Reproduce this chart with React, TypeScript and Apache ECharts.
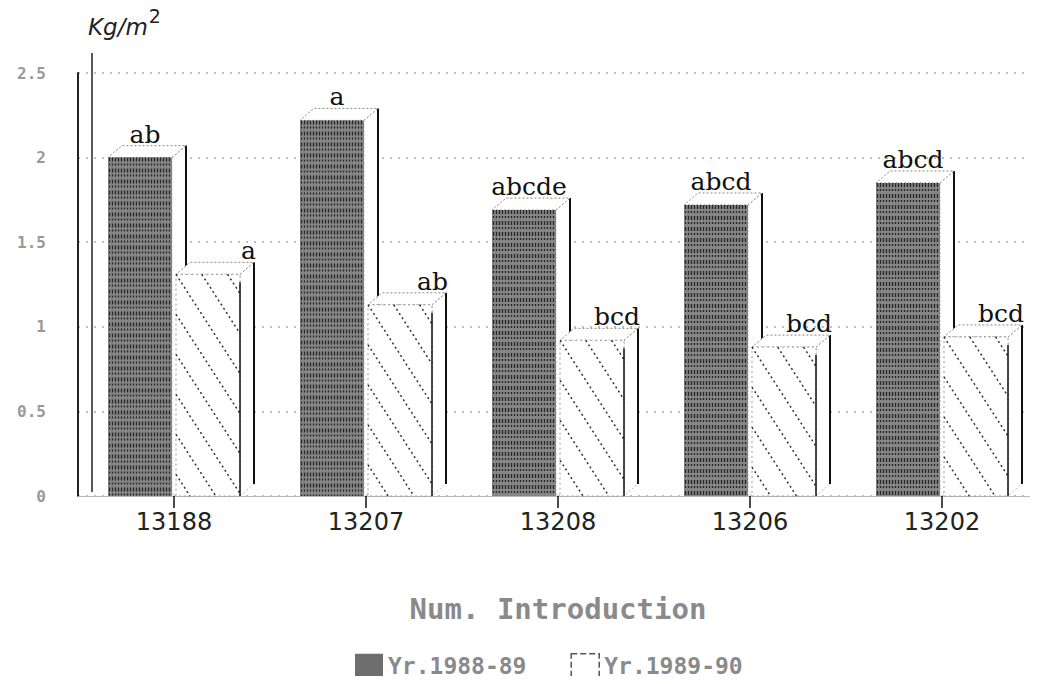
import React, { useEffect, useRef } from "react";
import * as echarts from "echarts";

const categories = ["13188", "13207", "13208", "13206", "13202"];
const seriesNames = ["Yr.1988-89", "Yr.1989-90"];
const values1988 = [2.0, 2.22, 1.69, 1.72, 1.85];
const values1989 = [1.31, 1.13, 0.92, 0.88, 0.94];
const letters1988 = ["ab", "a", "abcde", "abcd", "abcd"];
const letters1989 = ["a", "ab", "bcd", "bcd", "bcd"];
const yMin = 0;
const yMax = 2.5;
const yInterval = 0.5;
const xAxisTitle = "Num. Introduction";
const yAxisUnit = "Kg/m";

const DX = 14;
const DY = -12;

function clipLine(x0: number, y0: number, x1: number, y1: number, rx0: number, ry0: number, rx1: number, ry1: number) {
  let t0 = 0, t1 = 1;
  const dx = x1 - x0, dy = y1 - y0;
  const p = [-dx, dx, -dy, dy];
  const q = [x0 - rx0, rx1 - x0, y0 - ry0, ry1 - y0];
  for (let i = 0; i < 4; i++) {
    if (p[i] === 0) {
      if (q[i] < 0) return null;
    } else {
      const r = q[i] / p[i];
      if (p[i] < 0) { if (r > t1) return null; if (r > t0) t0 = r; }
      else { if (r < t0) return null; if (r < t1) t1 = r; }
    }
  }
  return [x0 + t0 * dx, y0 + t0 * dy, x0 + t1 * dx, y0 + t1 * dy];
}

function makeRender(which: number, letters: string[]) {
  return (params: any, api: any) => {
    const idx = params.dataIndex;
    const v = api.value(1);
    const base = api.coord([idx, 0]);
    const top = api.coord([idx, v]);
    const band = api.size([1, 0])[0];
    const s = band / 192;
    const w = 64 * s;
    const x0 = which === 0 ? base[0] - 66 * s : base[0] + 2 * s;
    const x1 = x0 + w;
    const yt = top[1];
    const yb = base[1];
    const children: any[] = [];
    children.push({
      type: "polygon",
      shape: { points: [[x1, yt], [x1 + DX, yt + DY], [x1 + DX, yb + DY], [x1, yb]] },
      style: { fill: "#fff", stroke: "#bbb", lineWidth: 1, lineDash: [2, 2] },
    });
    children.push({
      type: "line",
      shape: { x1: x1 + DX, y1: yt + DY, x2: x1 + DX, y2: yb + DY },
      style: { stroke: "#111", lineWidth: 2 },
    });
    children.push({
      type: "polygon",
      shape: { points: [[x0, yt], [x1, yt], [x1 + DX, yt + DY], [x0 + DX, yt + DY]] },
      style: { fill: "#fff", stroke: "#888", lineWidth: 1, lineDash: [2, 2] },
    });
    if (which === 0) {
      children.push({
        type: "rect",
        shape: { x: x0, y: yt, width: w, height: yb - yt },
        style: { fill: "#858585" },
      });
      for (let x = x0 + 1.5; x < x1; x += 3) {
        children.push({
          type: "line",
          shape: { x1: x, y1: yt, x2: x, y2: yb },
          style: { stroke: "#262626", lineWidth: 1.3, lineDash: [4, 2, 2, 3] },
        });
      }
    } else {
      children.push({
        type: "rect",
        shape: { x: x0, y: yt, width: w, height: yb - yt },
        style: { fill: "#fff", stroke: "#999", lineWidth: 1, lineDash: [2, 3] },
      });
      const slope = 1.55;
      const spacing = 40;
      for (let k = -12; k < 20; k++) {
        const ys = yt + k * spacing;
        const seg = clipLine(x0, ys, x1, ys + slope * w, x0, yt, x1, yb);
        if (seg) {
          children.push({
            type: "line",
            shape: { x1: seg[0], y1: seg[1], x2: seg[2], y2: seg[3] },
            style: { stroke: "#333", lineWidth: 1.5, lineDash: [2, 3] },
          });
        }
      }
      children.push({
        type: "line",
        shape: { x1: x1, y1: yt + 8, x2: x1, y2: yb },
        style: { stroke: "#111", lineWidth: 1.5 },
      });
    }
    children.push({
      type: "text",
      x: which === 0 ? (x0 + x1) / 2 + 5 : x1 + DX + 2,
      y: yt + DY + 1,
      style: {
        text: letters[idx],
        fill: "#111",
        font: '25px "DejaVu Serif"',
        align: which === 0 ? "center" : "right",
        verticalAlign: "bottom",
      },
    });
    return { type: "group", children };
  };
}

export default function App() {
  const ref = useRef<HTMLDivElement>(null);
  useEffect(() => {
    if (!ref.current) return;
    const chart = echarts.init(ref.current, undefined, { renderer: "svg" });
    chart.setOption({
      animation: false,
      backgroundColor: "#fff",
      grid: { left: 78, right: 0, top: 73, bottom: 188 },
      legend: {
        top: 648,
        left: 350,
        itemGap: 44,
        itemWidth: 28,
        itemHeight: 24,
        textStyle: { color: "#8a8a8a", fontSize: 23, fontFamily: "DejaVu Sans Mono", fontWeight: "bold" },
        data: [
          { name: seriesNames[0], icon: "rect", itemStyle: { color: "#6e6e6e" } },
          { name: seriesNames[1], icon: "rect", itemStyle: { color: "#fff", borderColor: "#555", borderWidth: 1.5, borderType: "dashed" } },
        ],
      },
      xAxis: {
        type: "category",
        data: categories,
        name: xAxisTitle,
        nameLocation: "middle",
        nameGap: 98,
        nameTextStyle: { color: "#8a8a8a", fontSize: 29, fontFamily: "DejaVu Sans Mono", fontWeight: "bold" },
        axisLine: { show: true, lineStyle: { color: "#aaa", type: "dotted", width: 1 } },
        axisTick: { show: true, alignWithLabel: true, length: 12, lineStyle: { color: "#111", width: 1.5 } },
        axisLabel: { color: "#222", fontSize: 24, fontFamily: "DejaVu Sans", margin: 14 },
      },
      yAxis: {
        type: "value",
        min: yMin,
        max: yMax,
        interval: yInterval,
        name: "{a|" + yAxisUnit + "}{b|2}",
        nameLocation: "end",
        nameGap: 26,
        nameTextStyle: {
          align: "left",
          padding: [0, 0, 0, 10],
          rich: {
            a: { fontSize: 23, fontStyle: "italic", color: "#222", fontFamily: "DejaVu Sans" },
            b: { fontSize: 19, color: "#222", fontFamily: "DejaVu Sans", verticalAlign: "top", padding: [0, 0, 22, 1] },
          },
        },
        axisLine: { show: true, lineStyle: { color: "#222", width: 2 } },
        axisTick: { show: false },
        axisLabel: { color: "#999", fontSize: 16, fontFamily: "DejaVu Sans Mono", fontWeight: "bold", margin: 32 },
        splitLine: { show: true, lineStyle: { color: "#aaa", type: [2, 6], width: 1.5 } },
      },
      series: [
        {
          name: seriesNames[0],
          type: "custom",
          renderItem: makeRender(0, letters1988),
          data: values1988.map((v, i) => [i, v]),
          itemStyle: { color: "#6e6e6e" },
          encode: { x: 0, y: 1 },
          clip: false,
        },
        {
          name: seriesNames[1],
          type: "custom",
          renderItem: makeRender(1, letters1989),
          data: values1989.map((v, i) => [i, v]),
          itemStyle: { color: "#fff" },
          encode: { x: 0, y: 1 },
          clip: false,
        },
      ],
    });
    const pTop = chart.convertToPixel({ gridIndex: 0 }, [0, yMax]);
    const pBot = chart.convertToPixel({ gridIndex: 0 }, [0, yMin]);
    const axisX = 78;
    chart.setOption({
      graphic: [
        {
          type: "line",
          shape: { x1: axisX + DX, y1: pTop[1] + DY - 8, x2: axisX + DX, y2: pBot[1] + DY + 8 },
          style: { stroke: "#222", lineWidth: 1.5 },
        },
      ],
    });
    return () => chart.dispose();
  }, []);
  return <div ref={ref} style={{ width: 1038, height: 684, margin: -8 }} />;
}
